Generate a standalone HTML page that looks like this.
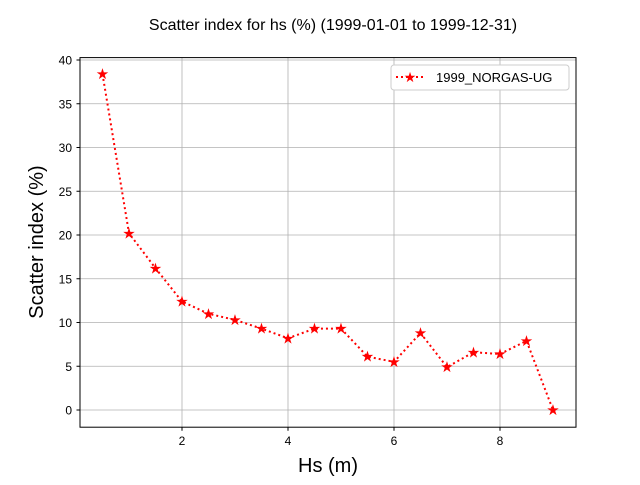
<!DOCTYPE html>
<html><head><meta charset="utf-8"><style>
body{margin:0;background:#fff;}
svg{font-family:"Liberation Sans","DejaVu Sans",sans-serif;}
</style></head><body>
<svg id="chart" width="640" height="480">
<text x="333" y="30" font-size="16" text-anchor="middle">Scatter index for hs (%) (1999-01-01 to 1999-12-31)</text>
<g id="grid"></g><g id="ticks"></g><g id="series"></g>
<rect x="80" y="57.6" width="496" height="369.6" fill="none" stroke="#000" stroke-width="1"/>
<text x="328" y="472" font-size="20" text-anchor="middle">Hs (m)</text>
<text x="43" y="242" font-size="20" text-anchor="middle" transform="rotate(-90 43 242)">Scatter index (%)</text>
<g>
<rect x="391" y="65" width="178" height="25" rx="3" fill="#fff" stroke="#ccc"/>
<line x1="396" y1="77" x2="424" y2="77" stroke="red" stroke-width="2" stroke-dasharray="2,3"/>
<text x="410" y="82" font-size="14" fill="red" text-anchor="middle">★</text>
<text x="436" y="82" font-size="13">1999_NORGAS-UG</text>
</g>
</svg>
<script>
const xs=[0.5,1,1.5,2,2.5,3,3.5,4,4.5,5,5.5,6,6.5,7,7.5,8,8.5,9];
const ys=[38.4,20.2,16.2,12.4,11.0,10.3,9.3,8.2,9.3,9.3,6.1,5.5,8.8,4.9,6.6,6.4,7.9,0.0];
const xTicks=[2,4,6,8];
const yTicks=[0,5,10,15,20,25,30,35,40];
const X=v=>76+53*v, Y=v=>410-8.75*v;
const NS="http://www.w3.org/2000/svg";
const g=document.getElementById('grid'),t=document.getElementById('ticks'),s=document.getElementById('series');
function mk(p,tag,a){const e=document.createElementNS(NS,tag);for(const k in a)e.setAttribute(k,a[k]);p.appendChild(e);return e;}
xTicks.forEach(v=>{
const l=mk(g,'line',{x1:X(v),x2:X(v),y1:57.6,y2:427.2,stroke:'#b0b0b0','stroke-width':0.8});


mk(t,'line',{x1:X(v),x2:X(v),y1:427.2,y2:430.7,stroke:'#000'});
const tx=mk(t,'text',{x:X(v),y:445,'font-size':12,'text-anchor':'middle'});tx.textContent=v;


});
yTicks.forEach(v=>{
const l=mk(g,'line',{x1:80,x2:576,y1:Y(v),y2:Y(v),stroke:'#b0b0b0','stroke-width':0.8});


mk(t,'line',{x1:76.5,x2:80,y1:Y(v),y2:Y(v),stroke:'#000'});
const tx=mk(t,'text',{x:72,y:Y(v)+4.5,'font-size':12,'text-anchor':'end'});tx.textContent=v;


});
const pl=mk(s,'polyline',{points:xs.map((x,i)=>X(x)+','+Y(ys[i])).join(' '),fill:'none',stroke:'red','stroke-width':2,'stroke-dasharray':'2,3'});


xs.forEach((x,i)=>{
const m=mk(s,'text',{x:X(x),y:Y(ys[i])+5,'font-size':15,fill:'red','text-anchor':'middle'});m.textContent='★';


});
</script>
</body></html>
